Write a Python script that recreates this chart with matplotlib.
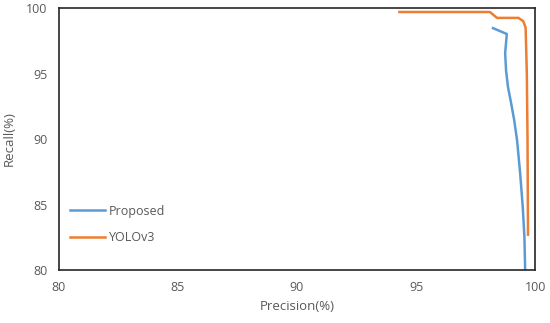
import matplotlib.pyplot as plt

# PR curves, values
prop_precision = [98.23, 98.81, 98.74, 98.78, 98.86, 98.99, 99.12, 99.24, 99.37, 99.48, 99.55, 99.58]
prop_recall = [98.47, 98.02, 96.56, 95.2, 93.97, 92.75, 91.45, 89.92, 87.4, 84.8, 82.5, 80.0]

yolo_precision = [94.3, 98.1, 98.4, 99.3, 99.5, 99.6, 99.65, 99.68, 99.7]
yolo_recall = [99.7, 99.7, 99.25, 99.25, 99.0, 98.5, 95.0, 90.0, 82.7]

xticks = [80, 85, 90, 95, 100]
yticks = [80, 85, 90, 95, 100]

plt.rcParams['font.family'] = ['Open Sans', 'DejaVu Sans']
plt.rcParams['font.size'] = 9

fig = plt.figure(figsize=(5.5, 3.23), dpi=100)
ax = fig.add_axes([0.107, 0.164, 0.866, 0.811])

ax.plot(prop_precision, prop_recall, color='#5B9BD5', lw=1.8, label='Proposed')
ax.plot(yolo_precision, yolo_recall, color='#ED7D31', lw=1.8, label='YOLOv3')

ax.set_xlim(80, 100)
ax.set_ylim(80, 100)
ax.set_xticks(xticks)
ax.set_yticks(yticks)
ax.tick_params(length=0, colors='#595959', pad=8)
for s in ax.spines.values():
    s.set_color('#262626')
    s.set_linewidth(1.2)

ax.set_xlabel('Precision(%)', color='#595959', fontsize=9.5, labelpad=4)
ax.set_ylabel('Recall(%)', color='#595959', fontsize=9.5, labelpad=8)

leg = ax.legend(loc='lower left', bbox_to_anchor=(0.0, 0.055), frameon=False,
                handlelength=2.8, handletextpad=0.3, labelspacing=1.1)
for t in leg.get_texts():
    t.set_color('#595959')

fig.savefig('out.png', dpi=100)
